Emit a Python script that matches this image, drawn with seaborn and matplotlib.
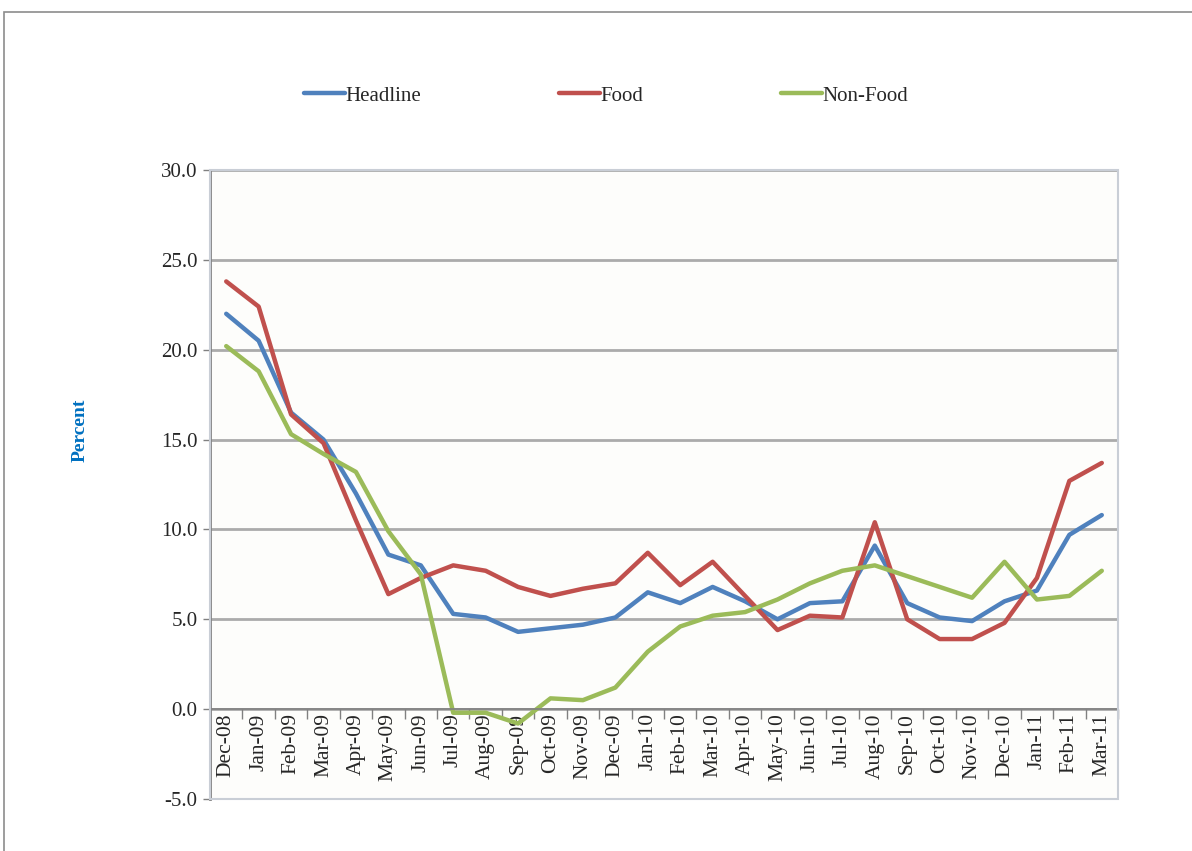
import matplotlib
matplotlib.use("Agg")
import matplotlib.pyplot as plt
import matplotlib.ticker as mticker
from matplotlib.patches import Rectangle
import seaborn as sns
import pandas as pd
import numpy as np

# Monthly inflation, year-on-year percent
months = ["Dec-08", "Jan-09", "Feb-09", "Mar-09", "Apr-09", "May-09", "Jun-09",
          "Jul-09", "Aug-09", "Sep-09", "Oct-09", "Nov-09", "Dec-09", "Jan-10",
          "Feb-10", "Mar-10", "Apr-10", "May-10", "Jun-10", "Jul-10", "Aug-10",
          "Sep-10", "Oct-10", "Nov-10", "Dec-10", "Jan-11", "Feb-11", "Mar-11"]

headline = [22.0, 20.5, 16.5, 15.0, 12.0, 8.6, 8.0, 5.3, 5.1, 4.3, 4.5, 4.7, 5.1, 6.5,
            5.9, 6.8, 6.0, 5.0, 5.9, 6.0, 9.1, 5.9, 5.1, 4.9, 6.0, 6.6, 9.7, 10.8]
food = [23.8, 22.4, 16.4, 14.8, 10.5, 6.4, 7.3, 8.0, 7.7, 6.8, 6.3, 6.7, 7.0, 8.7,
        6.9, 8.2, 6.3, 4.4, 5.2, 5.1, 10.4, 5.0, 3.9, 3.9, 4.8, 7.3, 12.7, 13.7]
non_food = [20.2, 18.8, 15.3, 14.2, 13.2, 9.9, 7.5, -0.2, -0.2, -0.8, 0.6, 0.5, 1.2, 3.2,
            4.6, 5.2, 5.4, 6.1, 7.0, 7.7, 8.0, 7.4, 6.8, 6.2, 8.2, 6.1, 6.3, 7.7]

series_names = ["Headline", "Food", "Non-Food"]
series_colors = ["#4F81BD", "#C0504D", "#9BBB59"]

y_ticks = [-5.0, 0.0, 5.0, 10.0, 15.0, 20.0, 25.0, 30.0]

sns.set_theme(style="white")
plt.rcParams["font.family"] = ["Liberation Serif", "DejaVu Serif"]

df = pd.DataFrame({
    "idx": list(range(len(months))) * 3,
    "value": headline + food + non_food,
    "series": [s for s in series_names for _ in months],
})

W, H = 1192, 851
fig = plt.figure(figsize=(W / 100, H / 100), dpi=100)

# outer chart border
fig.patches.append(Rectangle((4 / W, -0.1), 1.2, (H - 12) / H + 0.1,
                             transform=fig.transFigure, fill=False,
                             edgecolor="#8c8c8c", linewidth=1.2))

left, right, top, bottom = 210, 1118, 170, 799
ax = fig.add_axes([left / W, 1 - bottom / H, (right - left) / W, (bottom - top) / H])
ax.set_facecolor("#fdfdfb")

sns.lineplot(data=df, x="idx", y="value", hue="series", hue_order=series_names,
             palette=series_colors, linewidth=3.2, ax=ax, legend=False)

ax.set_xlim(-0.5, len(months) - 0.5)
ax.set_ylim(-5, 30)

# horizontal gridlines
for yv in y_ticks[1:]:
    ax.axhline(yv, color="#ababab", linewidth=2.0, zorder=0)

ax.set_yticks(y_ticks)
ax.yaxis.set_major_formatter(mticker.FormatStrFormatter("%.1f"))
ax.tick_params(axis="y", which="major", direction="out", length=5, width=1,
               color="#808080", labelsize=15, pad=4, left=True)

# category axis drawn along zero
ax.spines["bottom"].set_position(("data", 0))
ax.spines["bottom"].set_color("#808080")
ax.spines["bottom"].set_linewidth(1.2)
ax.set_xticks(range(len(months)))
ax.set_xticklabels(months, rotation=90, fontsize=15.5, va="top")
ax.set_xticks(np.arange(-0.5, len(months), 1.0), minor=True)
ax.tick_params(axis="x", which="major", length=0, pad=3)
ax.tick_params(axis="x", which="minor", direction="out", length=7, width=1,
               color="#808080", bottom=True)

ax.spines["left"].set_color("#808080")
ax.spines["left"].set_linewidth(2.0)
ax.spines["top"].set_visible(False)
ax.spines["right"].set_visible(False)

# plot area frame
ax.add_patch(Rectangle((0, 0), 1, 1, transform=ax.transAxes, fill=False,
                       edgecolor="#c9ced6", linewidth=1.5, zorder=5, clip_on=False))

ax.set_xlabel("")
ax.set_ylabel("")
fig.text(80 / W, 1 - 430 / H, "Percent", rotation=90, ha="center", va="center",
         fontsize=14, fontweight="bold", color="#0070C0")

handles = [plt.Line2D([], [], color=c, linewidth=3.2) for c in series_colors]
fig.legend(handles, series_names, loc="center", bbox_to_anchor=(606 / W, 1 - 96 / H),
           ncol=3, frameon=False, fontsize=15, handlelength=2.0, handletextpad=0.0,
           columnspacing=6.6)

fig.savefig("out.png", dpi=100)
